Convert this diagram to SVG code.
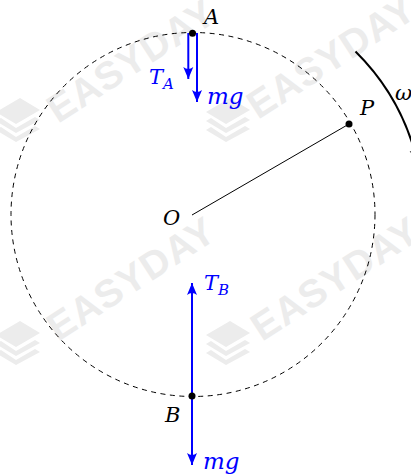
<svg xmlns="http://www.w3.org/2000/svg" width="411" height="474" viewBox="0 0 411 474">
<style>
.wm{font-family:"Liberation Sans",Arial,sans-serif;font-weight:bold;font-size:39px;fill:#ececec;letter-spacing:1px}
.logo{fill:#ececec}
.lbl{font-family:"DejaVu Serif",serif;font-style:italic;font-size:21px}
.blk{fill:#000}
.blu{fill:#0000ff}
.big{font-size:23px}
.sub{font-size:15px}
.force{stroke:#0000ff;stroke-width:2;fill:none}
</style>
<defs>
<marker id="ah" markerUnits="userSpaceOnUse" markerWidth="16" markerHeight="14" viewBox="-13 -7 14 14" refX="0" refY="0" orient="auto">
<path d="M0,0 L-12,-5 Q-8,0 -12,5 Z" fill="#0000ff"/>
</marker>
<marker id="ahk" markerUnits="userSpaceOnUse" markerWidth="16" markerHeight="14" viewBox="-13 -7 14 14" refX="0" refY="0" orient="auto">
<path d="M0,0 L-12,-5 Q-8,0 -12,5 Z" fill="#000"/>
</marker>
<g id="logoShape">
<path d="M0,0 L24,-14 L44,-2 L20,12 Z M0,9 L5,6 L20,16 L39,5 L44,8 L20,21 Z M0,18 L5,15 L20,25 L39,14 L44,17 L20,30 Z"/>
</g>
</defs>
<g id="watermark">
<text class="wm" transform="translate(58,124) rotate(-33)">EASYDAY</text>
<text class="wm" transform="translate(258,120) rotate(-33)">EASYDAY</text>
<text class="wm" transform="translate(58,342) rotate(-33)">EASYDAY</text>
<text class="wm" transform="translate(262,342) rotate(-33)">EASYDAY</text>
<use href="#logoShape" class="logo" transform="translate(-4,112)"/>
<use href="#logoShape" class="logo" transform="translate(206,112)"/>
<use href="#logoShape" class="logo" transform="translate(-4,335)"/>
<use href="#logoShape" class="logo" transform="translate(206,335)"/>
</g>
<g id="connectors">
<circle cx="193" cy="214.5" r="182" fill="none" stroke="#000" stroke-width="1" stroke-dasharray="5 4.5"/>
<line x1="192" y1="215" x2="349" y2="124" stroke="#000" stroke-width="1"/>
<path d="M355.5,51.5 A229,229 0 0 1 417.3,161.6" fill="none" stroke="#000" stroke-width="2" marker-end="url(#ahk)"/>
<line class="force" x1="188.3" y1="33" x2="188.3" y2="79" marker-end="url(#ah)"/>
<line class="force" x1="197" y1="33" x2="197" y2="102" marker-end="url(#ah)"/>
<line class="force" x1="192" y1="396" x2="192" y2="283" marker-end="url(#ah)"/>
<line class="force" x1="192" y1="396" x2="192" y2="465" marker-end="url(#ah)"/>
</g>
<g id="node-A">
<circle cx="192.5" cy="33.3" r="3.5" fill="#000"/>
<text class="lbl blk" x="204" y="24">A</text>
</g>
<g id="node-P">
<circle cx="349" cy="124" r="3.5" fill="#000"/>
<text class="lbl blk" x="360" y="115">P</text>
</g>
<g id="node-O">
<text class="lbl blk" x="163" y="225">O</text>
</g>
<g id="node-B">
<circle cx="192" cy="396" r="3.5" fill="#000"/>
<text class="lbl blk" x="165" y="422">B</text>
</g>
<g id="labels">
<text class="lbl blk" x="395" y="100">ω</text>
<text class="lbl blu" x="149" y="84">T<tspan class="sub" dy="5">A</tspan></text>
<text class="lbl blu big" x="207" y="104">mg</text>
<text class="lbl blu" x="204" y="290">T<tspan class="sub" dy="5">B</tspan></text>
<text class="lbl blu big" x="203" y="469">mg</text>
</g>
</svg>
